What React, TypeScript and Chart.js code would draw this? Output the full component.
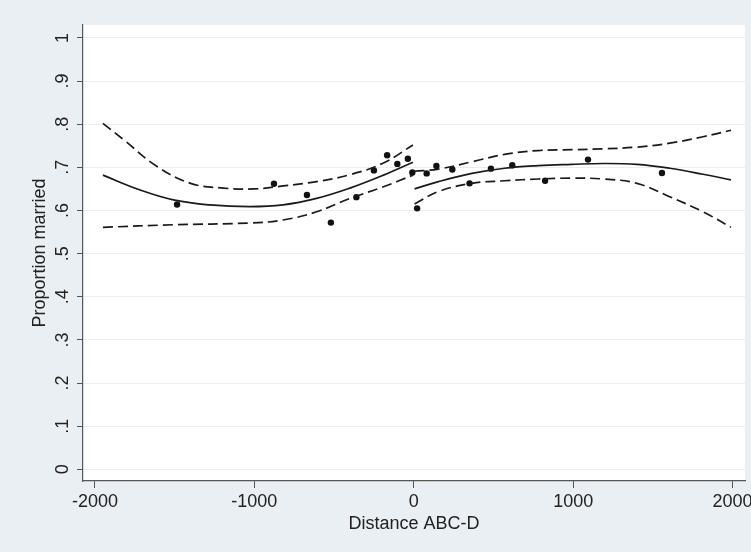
import React, { useEffect, useRef } from "react";
import { Chart, registerables } from "chart.js";

Chart.register(...registerables);

// Scatter of binned means
const scatterX = [-1485, -877, -670, -520, -360, -250, -167, -103, -37, -9, 21, 81, 142, 242, 350, 484, 618, 824, 1093, 1557];
const scatterY = [0.614, 0.662, 0.636, 0.572, 0.631, 0.693, 0.728, 0.708, 0.72, 0.688, 0.605, 0.686, 0.703, 0.695, 0.663, 0.697, 0.705, 0.669, 0.718, 0.687];

// Left of cutoff: fitted line and confidence band
const leftFitX = [-1950, -1720, -1500, -1280, -1030, -820, -610, -400, -190, -5];
const leftFitY = [0.682, 0.648, 0.624, 0.613, 0.609, 0.613, 0.628, 0.652, 0.682, 0.712];
const leftUpperX = [-1950, -1820, -1610, -1400, -1195, -1000, -820, -610, -400, -190, -5];
const leftUpperY = [0.802, 0.764, 0.702, 0.663, 0.652, 0.65, 0.657, 0.667, 0.683, 0.71, 0.752];
const leftLowerX = [-1950, -1510, -1030, -820, -610, -400, -190, -5];
const leftLowerY = [0.561, 0.567, 0.571, 0.578, 0.597, 0.628, 0.655, 0.682];

// Right of cutoff
const rightX = [5, 155, 365, 570, 780, 990, 1190, 1400, 1605, 1815, 1990];
const rightFitY = [0.65, 0.667, 0.686, 0.698, 0.704, 0.707, 0.709, 0.707, 0.698, 0.684, 0.671];
const rightUpperY = [0.691, 0.696, 0.713, 0.73, 0.739, 0.741, 0.743, 0.747, 0.756, 0.771, 0.786];
const rightLowerY = [0.615, 0.644, 0.663, 0.669, 0.673, 0.675, 0.673, 0.663, 0.632, 0.597, 0.561];

// Tick values and labels
const xTickValues = [-2000, -1000, 0, 1000, 2000];
const yTickValues = [0, 0.1, 0.2, 0.3, 0.4, 0.5, 0.6, 0.7, 0.8, 0.9, 1];
const yTickLabels = ["0", ".1", ".2", ".3", ".4", ".5", ".6", ".7", ".8", ".9", "1"];

const xTitle = "Distance ABC-D";
const yTitle = "Proportion married";

const FONT = '18px "Liberation Sans", Arial, Helvetica, sans-serif';
const TEXT = "#222222";
const OUTER_BG = "#e9eff2";

const pts = (xs: number[], ys: number[]) => xs.map((x, i) => ({ x, y: ys[i] }));

const bgPlugin = {
  id: "stataBg",
  beforeDraw(chart: any) {
    const { ctx, chartArea } = chart;
    ctx.save();
    ctx.fillStyle = OUTER_BG;
    ctx.fillRect(0, 0, chart.width, chart.height);
    ctx.fillStyle = "#ffffff";
    ctx.fillRect(chartArea.left, chartArea.top, chartArea.right - chartArea.left, chartArea.bottom - chartArea.top);
    ctx.restore();
  },
  afterDraw(chart: any) {
    const { ctx, chartArea } = chart;
    const xs = chart.scales.x;
    const ys = chart.scales.y;
    ctx.save();
    ctx.font = FONT;
    ctx.fillStyle = TEXT;
    ctx.textAlign = "center";
    ctx.textBaseline = "middle";
    // y tick labels, rotated
    ys.ticks.forEach((t: any, i: number) => {
      const py = ys.getPixelForValue(t.value);
      ctx.save();
      ctx.translate(63, py);
      ctx.rotate(-Math.PI / 2);
      ctx.fillText(yTickLabels[i] ?? String(t.value), 0, 0);
      ctx.restore();
    });
    // y title
    ctx.save();
    ctx.translate(40, (chartArea.top + chartArea.bottom) / 2);
    ctx.rotate(-Math.PI / 2);
    ctx.fillText(yTitle, 0, 0);
    ctx.restore();
    // x tick labels
    xs.ticks.forEach((t: any) => {
      const px = xs.getPixelForValue(t.value);
      ctx.fillText(String(t.value), px, 502);
    });
    // x title
    ctx.fillText(xTitle, (chartArea.left + chartArea.right) / 2, 524);
    ctx.restore();
  },
};

export default function App() {
  const ref = useRef<HTMLCanvasElement | null>(null);

  useEffect(() => {
    document.body.style.margin = "0";
    const canvas = ref.current;
    if (!canvas) return;
    const lineBase = {
      showLine: true,
      pointRadius: 0,
      pointHoverRadius: 0,
      borderColor: "#1a1a1a",
      borderWidth: 1.7,
      tension: 0.4,
      fill: false,
    };
    const dashed = { ...lineBase, borderDash: [10, 5], borderWidth: 1.7 };
    const chart = new Chart(canvas, {
      type: "scatter",
      data: {
        datasets: [
          { ...dashed, data: pts(leftUpperX, leftUpperY) },
          { ...dashed, data: pts(leftLowerX, leftLowerY) },
          { ...lineBase, data: pts(leftFitX, leftFitY) },
          { ...dashed, data: pts(rightX, rightUpperY) },
          { ...dashed, data: pts(rightX, rightLowerY) },
          { ...lineBase, data: pts(rightX, rightFitY) },
          {
            data: pts(scatterX, scatterY),
            showLine: false,
            pointRadius: 3.2,
            pointBackgroundColor: "#111111",
            pointBorderWidth: 0,
            backgroundColor: "#111111",
          } as any,
        ],
      },
      options: {
        responsive: false,
        animation: false,
        events: [],
        layout: { padding: { left: 0, top: 25, right: 6, bottom: 0 } },
        plugins: { legend: { display: false }, tooltip: { enabled: false } },
        scales: {
          x: {
            type: "linear",
            min: -2075,
            max: 2078,
            afterFit: (s: any) => {
              s.height = 71;
            },
            afterBuildTicks: (s: any) => {
              s.ticks = xTickValues.map((v) => ({ value: v }));
            },
            ticks: { display: false },
            grid: { drawOnChartArea: false, drawTicks: true, tickLength: 7, tickColor: "#555555", tickWidth: 1 },
            border: { display: true, color: "#555555", width: 1.2 },
          },
          y: {
            type: "linear",
            min: -0.027,
            max: 1.03,
            afterFit: (s: any) => {
              s.width = 83;
            },
            afterBuildTicks: (s: any) => {
              s.ticks = yTickValues.map((v) => ({ value: v }));
            },
            ticks: { display: false },
            grid: { drawOnChartArea: true, color: "#eaeef1", lineWidth: 1, drawTicks: true, tickLength: 6, tickColor: "#555555", tickWidth: 1 },
            border: { display: true, color: "#555555", width: 1.2 },
          },
        },
      } as any,
      plugins: [bgPlugin],
    });
    return () => chart.destroy();
  }, []);

  return (
    <div style={{ width: 751, height: 552 }}>
      <canvas ref={ref} width={751} height={552} style={{ display: "block", width: 751, height: 552 }} />
    </div>
  );
}
